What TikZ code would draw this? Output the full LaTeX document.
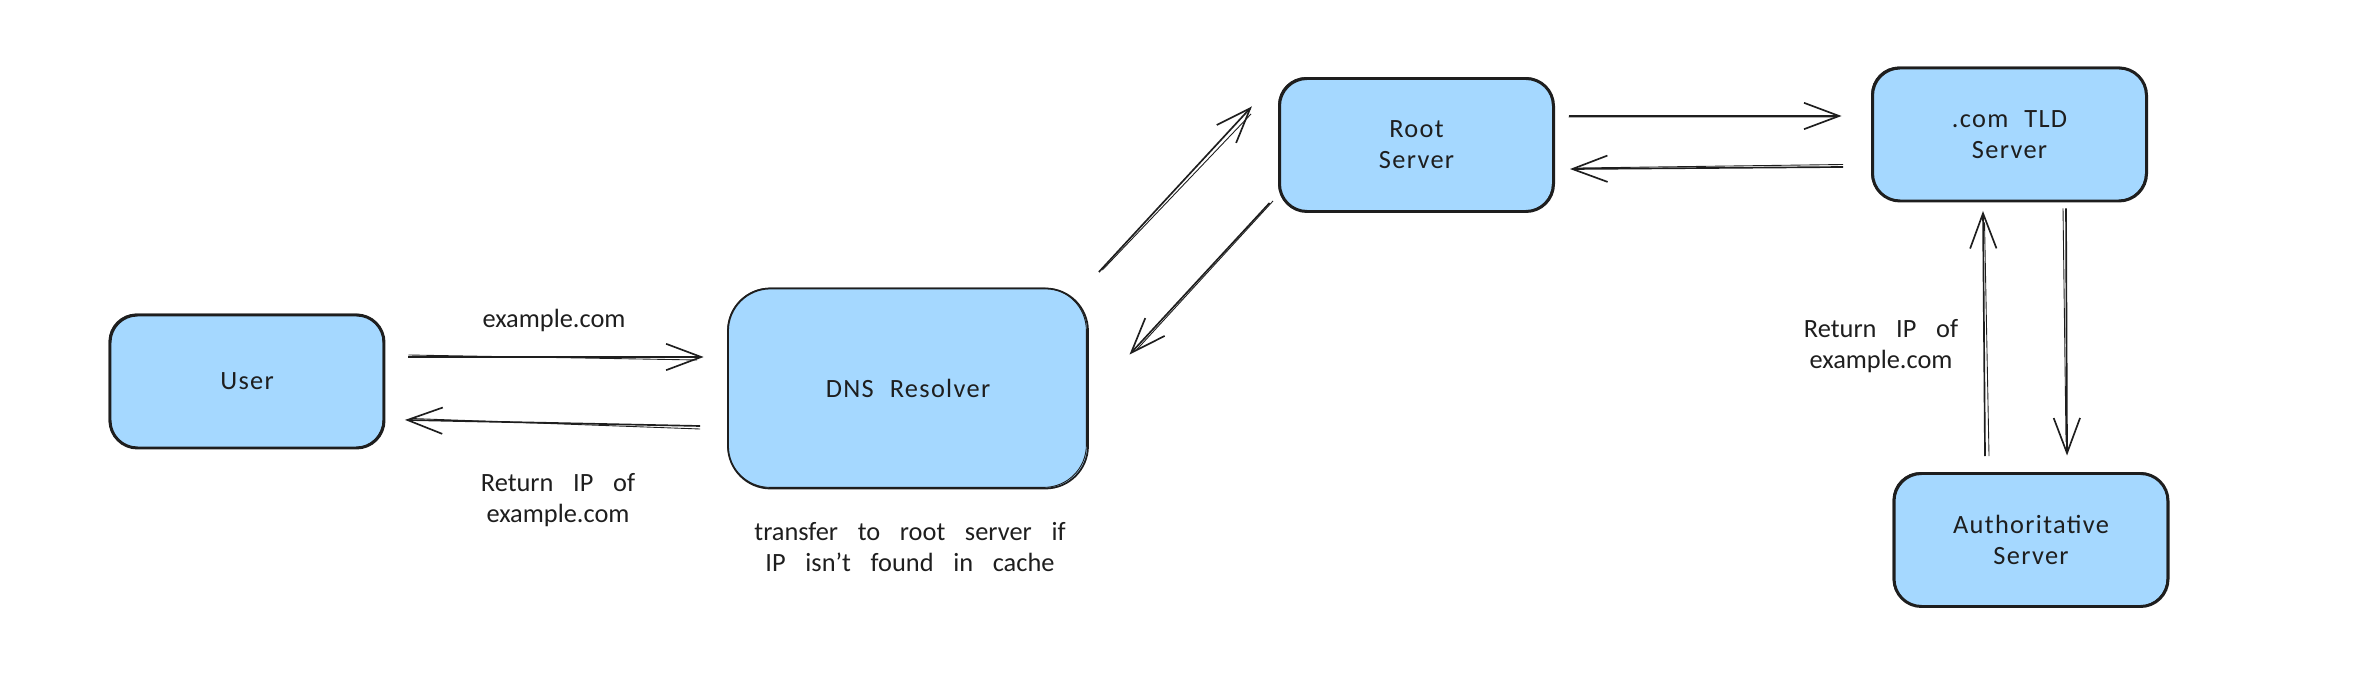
\documentclass[tikz,border=0pt]{standalone}
\usepackage{fontspec}
\setmainfont{Carlito}[WordSpace=3.3]
\newfontfamily\boxfont{Carlito}[WordSpace=2.2,LetterSpace=5]
\usetikzlibrary{arrows.meta}
\definecolor{boxblue}{HTML}{A5D8FF}
\definecolor{ink}{HTML}{1E1E1E}
\tikzset{
    box/.style={draw=ink,fill=boxblue,line width=1.7pt,rounded corners=0.55cm,minimum width=5.48cm,minimum height=2.66cm,align=center,text=ink,font=\fontsize{15}{17.6}\boxfont},
    bigbox/.style={box,line width=1pt,rounded corners=0.85cm,minimum width=7.2cm,minimum height=4cm},
    label/.style={align=center,text=ink,font=\fontsize{15}{17.6}\selectfont},
    link/.style={draw=ink,line width=0.95pt,shorten >=-2pt,-{Straight Barb[length=20pt,width=15pt]}},
    sketch/.style={draw=ink,line width=0.5pt},
    edge/.style={draw=ink,line width=0.5pt}
}
\begin{document}
\begin{tikzpicture}
    \useasboundingbox (0,0) rectangle (47.2,13.88);
    \node[box] (user) at (4.94,6.25) {User};
    \node[bigbox] (dns) at (18.16,6.11) {DNS Resolver};
    \node[box] (root) at (28.33,10.98) {Root\\Server};
    \node[box] (tld) at (40.19,11.19) {.com TLD\\Server};
    \node[box] (auth) at (40.62,3.08) {Authoritative\\Server};
    \foreach \n/\r in {user/0.55,dns/0.85,root/0.55,tld/0.55,auth/0.55}
        \draw[edge,rounded corners=\r cm] ([shift={(.01,.04)}]\n.south west) rectangle ([shift={(-.05,-.01)}]\n.north east);
    \node[label] (sent) at (11.08,7.48) {example.com};
    \node[label] (back) at (11.16,3.88) {Return IP of\\example.com};
    \node[label] (note) at (18.2,2.94) {transfer to root server if\\IP isn't found in cache};
    \node[label] (ipback) at (37.62,6.96) {Return IP of\\example.com};
    \draw[link] ([shift={(.46,.49)}]user.east) -- ([shift={(-.54,.63)}]dns.west);
    \draw[sketch] ([shift={(.46,.53)}]user.east) -- ([shift={(-.6,.57)}]dns.west);
    \draw[link] ([shift={(-.54,-.75)}]dns.west) -- ([shift={(.46,-.77)}]user.east);
    \draw[sketch] ([shift={(-.54,-.81)}]dns.west) -- ([shift={(.52,-.74)}]user.east);
    \draw[link] ([shift={(.2,2.33)}]dns.east) -- ([shift={(-.57,.72)}]root.west);
    \draw[sketch] ([shift={(.27,2.37)}]dns.east) -- ([shift={(-.54,.62)}]root.west);
    \draw[link] ([shift={(-.17,-1.16)}]root.west) -- ([shift={(.86,.73)}]dns.east);
    \draw[sketch] ([shift={(-.1,-1.12)}]root.west) -- ([shift={(.96,.78)}]dns.east);
    \draw[link] ([shift={(.27,.58)}]root.east) -- ([shift={(-.66,.37)}]tld.west);
    \draw[sketch] ([shift={(.27,.56)}]root.east) -- ([shift={(-.76,.35)}]tld.west);
    \draw[link] ([shift={(-.56,-.65)}]tld.west) -- ([shift={(.37,-.48)}]root.east);
    \draw[sketch] ([shift={(-.56,-.6)}]tld.west) -- ([shift={(.47,-.46)}]root.east);
    \draw[link] ([shift={(-.92,.32)}]auth.north) -- ([shift={(-.53,-.24)}]tld.south);
    \draw[sketch] ([shift={(-.84,.32)}]auth.north) -- ([shift={(-.5,-.4)}]tld.south);
    \draw[link] ([shift={(1.13,-.12)}]tld.south) -- ([shift={(.72,.4)}]auth.north);
    \draw[sketch] ([shift={(1.07,-.12)}]tld.south) -- ([shift={(.7,.6)}]auth.north);
\end{tikzpicture}
\end{document}
